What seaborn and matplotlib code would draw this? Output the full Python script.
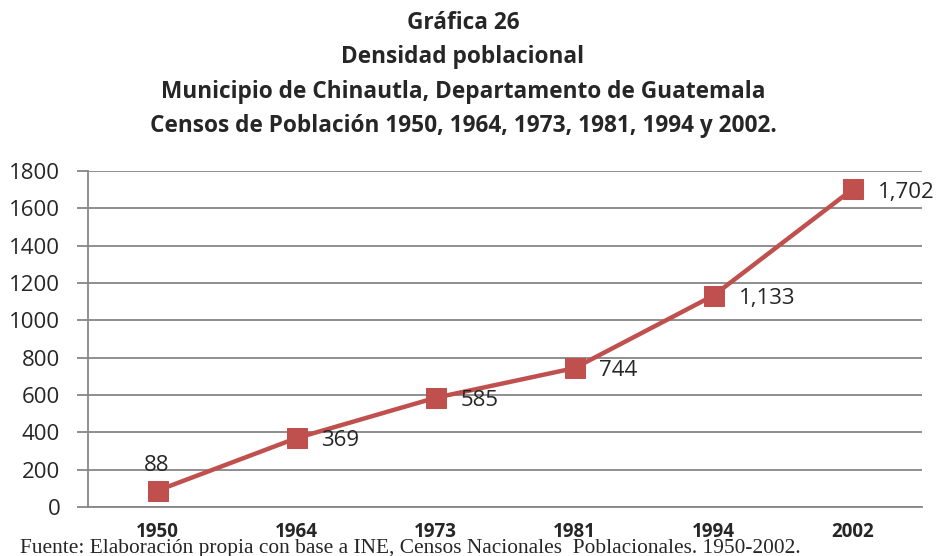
import numpy as np
import pandas as pd
import matplotlib.pyplot as plt
import matplotlib.ticker as mticker
import seaborn as sns

# Datos de los censos
years = ["1950", "1964", "1973", "1981", "1994", "2002"]
density = [88, 369, 585, 744, 1133, 1702]
labels = ["88", "369", "585", "744", "1,133", "1,702"]

df = pd.DataFrame({"year": years, "density": density})

sns.set_style("white")
plt.rcParams["font.family"] = ["Open Sans", "DejaVu Sans"]

red = "#C0504D"
grey = "#868686"

fig = plt.figure(figsize=(9.41, 5.56), dpi=100)
ax = fig.add_axes([88 / 941, 1 - 507 / 556, 834 / 941, 336 / 556])

sns.lineplot(data=df, x="year", y="density", ax=ax, color=red, linewidth=3.2,
             marker="s", markersize=14, markeredgecolor=red, sort=False)

ax.set_xlim(-0.5, 5.5)
ax.set_ylim(0, 1800)
ax.yaxis.set_major_locator(mticker.MultipleLocator(200))
ax.grid(axis="y", color=grey, linewidth=1.3)
ax.set_axisbelow(True)
for side in ["top", "right"]:
    ax.spines[side].set_visible(False)
for side in ["left", "bottom"]:
    ax.spines[side].set_color(grey)
    ax.spines[side].set_linewidth(1.3)

ax.set_xticks(range(len(years)))
ax.set_xticks(np.arange(-0.5, len(years)), minor=True)
ax.tick_params(axis="x", which="major", length=0, pad=11, labelsize=13.5)
ax.tick_params(axis="x", which="minor", length=7, color=grey, width=1.3)
ax.tick_params(axis="y", length=8, color=grey, width=1.3, pad=12, labelsize=16,
               left=True)
for t in ax.get_xticklabels():
    t.set_fontweight("bold")
ax.set_xlabel("")
ax.set_ylabel("")

# Etiquetas de datos
for i, (v, lab) in enumerate(zip(density, labels)):
    if i == 0:
        ax.annotate(lab, (i, v), xytext=(-10, 18), textcoords="offset points",
                    fontsize=16, va="center", ha="left")
    else:
        ax.annotate(lab, (i, v), xytext=(18, -2), textcoords="offset points",
                    fontsize=16, va="center", ha="left")

titles = ["Gráfica 26", "Densidad poblacional",
          "Municipio de Chinautla, Departamento de Guatemala",
          "Censos de Población 1950, 1964, 1973, 1981, 1994 y 2002."]
for k, line in enumerate(titles):
    fig.text(0.492, 1 - (23 + 34.3 * k) / 556, line, ha="center", va="center",
             fontsize=16.3, fontweight="bold")

fig.text(20 / 941, 1 - 548 / 556,
         "Fuente: Elaboración propia con base a INE, Censos Nacionales  Poblacionales. 1950-2002.",
         ha="left", va="center", fontsize=15.4, family=["Liberation Serif"])

fig.savefig("out.png", dpi=100)
